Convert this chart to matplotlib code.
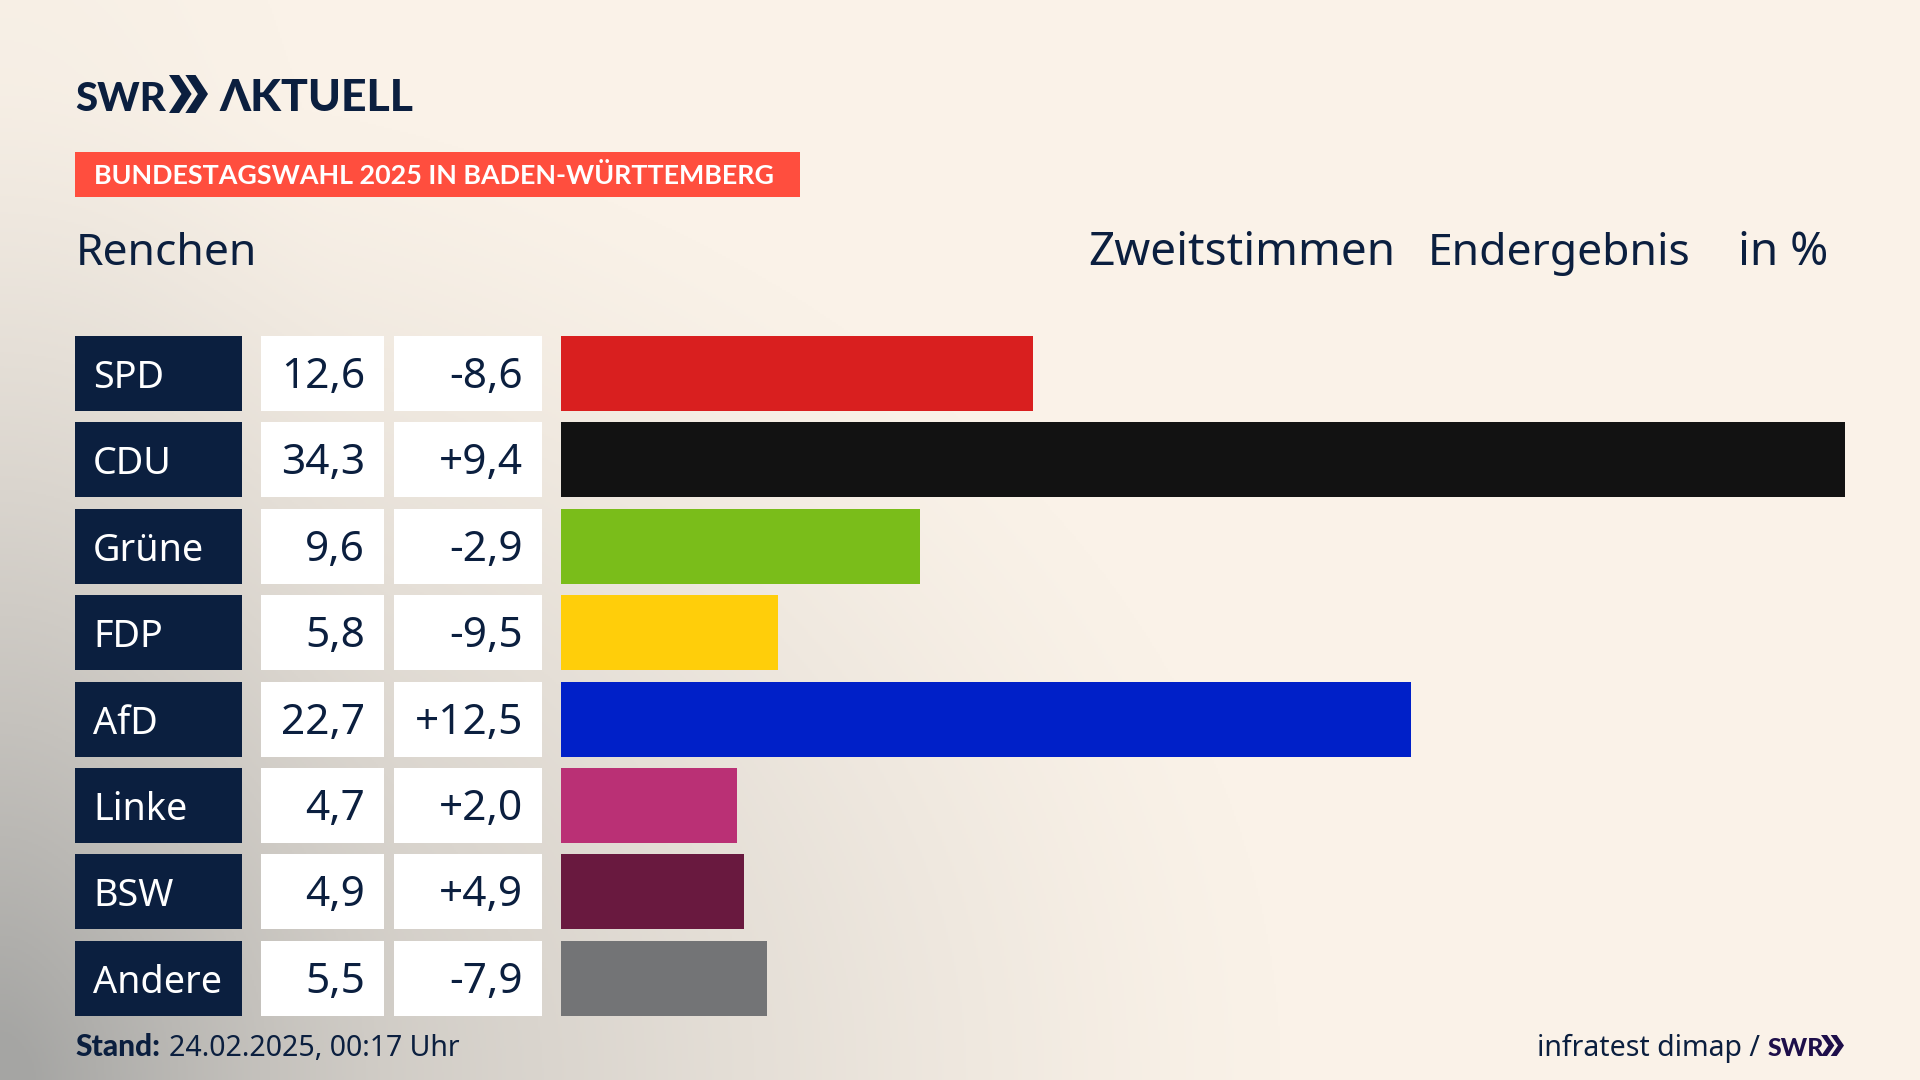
import numpy as np
import matplotlib
matplotlib.use('Agg')
import matplotlib.pyplot as plt
from matplotlib.patches import Rectangle, Polygon

parties = ['SPD', 'CDU', 'Grüne', 'FDP', 'AfD', 'Linke', 'BSW', 'Andere']
results = [12.6, 34.3, 9.6, 5.8, 22.7, 4.7, 4.9, 5.5]
changes = ['-8,6', '+9,4', '-2,9', '-9,5', '+12,5', '+2,0', '+4,9', '-7,9']
colors = ['#D91F1F', '#121212', '#7ABD1A', '#FFCE0A', '#0020C8', '#BA3075', '#69193F', '#737476']

navy = '#0B1F3F'
font = 'Noto Sans'
heavy = 'Lato'

W, H = 1920, 1080
fig = plt.figure(figsize=(W / 100, H / 100), dpi=100)

# pixel axes for background, cells and text
ax = fig.add_axes([0, 0, 1, 1])
ax.set_xlim(0, W)
ax.set_ylim(H, 0)
ax.axis('off')

# soft grey shade from the bottom left corner
yy, xx = np.mgrid[0:H:2, 0:W:2]
d = np.sqrt((xx / 1280) ** 2 + ((H - yy) / 1000) ** 2)
d2 = np.sqrt((xx / 420) ** 2 + ((H - yy) / 1400) ** 2)
t = np.clip(1 - d, 0, 1) ** 1.25 * 0.75 + np.clip(1 - d2, 0, 1) ** 1.5 * 0.3
t = np.clip(t, 0, 1)[..., None]
cream = np.array([250, 242, 232]) / 255
grey = np.array([165, 165, 163]) / 255
ax.imshow(cream * (1 - t) + grey * t, extent=[0, W, H, 0], aspect='auto', zorder=0)


def chevrons(x, y, w, h, color):
    cw = w * 0.58
    for off in [0, w - cw]:
        ax.add_patch(Polygon([(x + off, y), (x + off + cw * 0.45, y), (x + off + cw, y + h / 2),
                              (x + off + cw * 0.45, y + h), (x + off, y + h), (x + off + cw * 0.55, y + h / 2)],
                             color=color, lw=0, zorder=3))


# logo
ax.text(75, 111, 'SWR', family=heavy, weight='black', fontsize=29, color=navy, zorder=3)
chevrons(169, 75, 39, 38, navy)
ax.text(219, 111, 'ΛKTUELL', family=[heavy, 'DejaVu Sans'], weight='black', fontsize=32, color=navy, zorder=3)

# banner
ax.add_patch(Rectangle((75, 152), 725, 45, color='#FF4E3E', lw=0, zorder=2))
ax.text(94, 176, 'BUNDESTAGSWAHL 2025 IN BADEN-WÜRTTEMBERG', family=heavy, weight='bold',
        fontsize=19.4, color='white', va='center', zorder=3)

# headings
ax.text(76, 265, 'Renchen', family=font, fontsize=32, color=navy, zorder=3)
ax.text(1088, 265, 'Zweitstimmen', family=font, fontsize=33, color=navy, zorder=3)
ax.text(1428, 265, 'Endergebnis', family=font, fontsize=32, color=navy, zorder=3)
ax.text(1738, 265, 'in %', family=font, fontsize=33, color=navy, zorder=3)

# rows
top, row_h, pitch = 336, 75, 86.4
for i, name in enumerate(parties):
    y = top + i * pitch
    ax.add_patch(Rectangle((75, y), 167, row_h, color=navy, lw=0, zorder=2))
    ax.add_patch(Rectangle((261, y), 123, row_h, color='white', lw=0, zorder=2))
    ax.add_patch(Rectangle((394, y), 148, row_h, color='white', lw=0, zorder=2))
    base = y + 52
    ax.text(93, base, name, family=font, fontsize=27.2, color='white', zorder=3)
    ax.text(365, base, f'{results[i]:.1f}'.replace('.', ','), family=font, fontsize=30.5, color=navy, ha='right', zorder=3)
    ax.text(523, base, changes[i], family=font, fontsize=30.5, color=navy, ha='right', zorder=3)

# bars on their own value axis, 0..34.3 spans x 561..1845
ax_bar = fig.add_axes([561 / W, 1 - (top + 7 * pitch + row_h) / H, (1845 - 561) / W, (7 * pitch + row_h) / H])
ax_bar.patch.set_alpha(0)
ax_bar.axis('off')
ax_bar.barh(range(len(parties)), results, height=row_h / pitch, color=colors, left=0)
ax_bar.set_xlim(0, max(results))
half = row_h / pitch / 2
ax_bar.set_ylim(len(parties) - 1 + half, -half)

# footer
ax.text(75, 1056, 'Stand:', family=heavy, weight='black', fontsize=21.5, color=navy, zorder=3)
ax.text(169, 1056, '24.02.2025, 00:17 Uhr', family=font, fontsize=20.5, color=navy, zorder=3)
ax.text(1760, 1056, 'infratest dimap /', family=font, fontsize=20.5, color=navy, ha='right', zorder=3)
ax.text(1768, 1056, 'SWR', family=heavy, weight='black', fontsize=18, color='#1E0F4A', zorder=3)
chevrons(1821, 1035, 23, 21, '#1E0F4A')

fig.savefig('out.png', dpi=100)
